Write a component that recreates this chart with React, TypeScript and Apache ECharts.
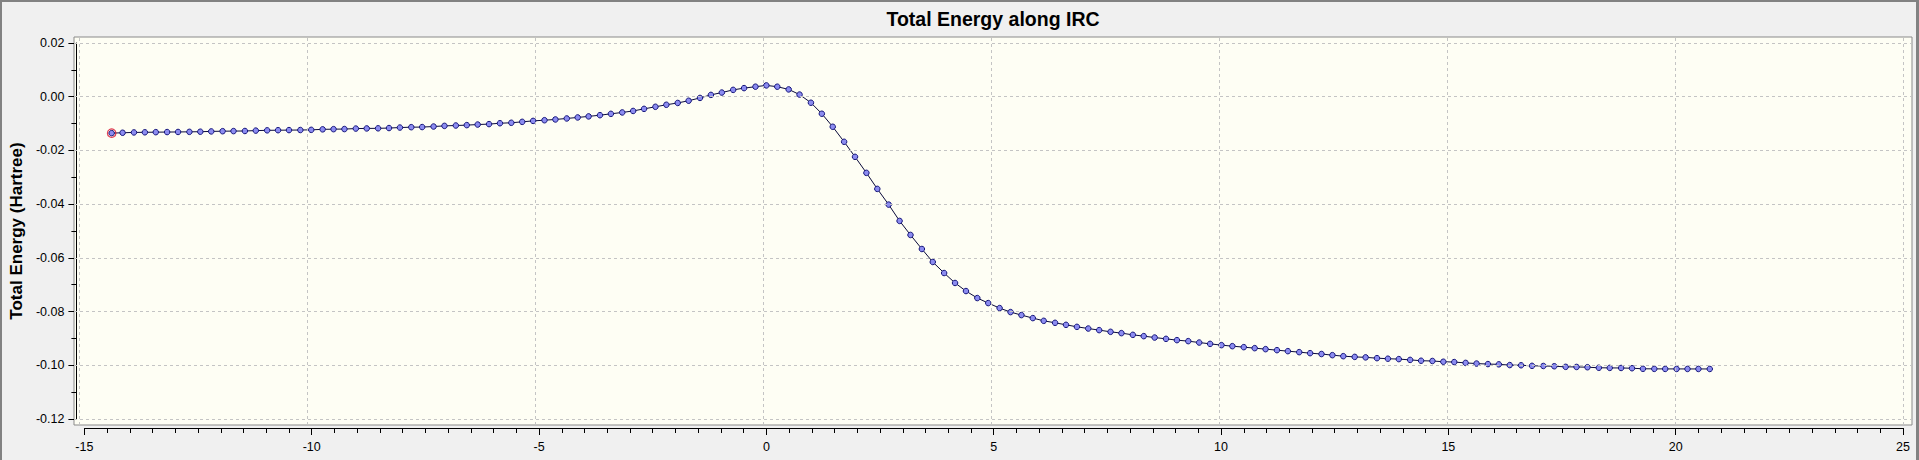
import React, { useEffect, useRef } from "react";
import * as echarts from "echarts";

const TITLE = "Total Energy along IRC";
const Y_NAME = "Total Energy (Hartree)";

// Reaction coordinate of each IRC point
const X_VALUES = [
  -14.40, -14.16, -13.91, -13.67, -13.43, -13.18, -12.94, -12.69, -12.45, -12.21,
  -11.96, -11.72, -11.47, -11.23, -10.98, -10.74, -10.50, -10.25, -10.01, -9.76,
  -9.52, -9.28, -9.03, -8.79, -8.54, -8.30, -8.06, -7.81, -7.57, -7.32,
  -7.08, -6.83, -6.59, -6.35, -6.10, -5.86, -5.61, -5.37, -5.13, -4.88,
  -4.64, -4.39, -4.15, -3.91, -3.66, -3.42, -3.17, -2.93, -2.69, -2.44,
  -2.20, -1.95, -1.71, -1.46, -1.22, -0.98, -0.73, -0.49, -0.24, 0.00,
  0.24, 0.49, 0.73, 0.98, 1.22, 1.46, 1.71, 1.95, 2.20, 2.44,
  2.69, 2.93, 3.17, 3.42, 3.66, 3.91, 4.15, 4.39, 4.64, 4.88,
  5.13, 5.37, 5.61, 5.86, 6.10, 6.35, 6.59, 6.83, 7.08, 7.32,
  7.57, 7.81, 8.06, 8.30, 8.54, 8.79, 9.03, 9.28, 9.52, 9.76,
  10.01, 10.25, 10.50, 10.74, 10.98, 11.23, 11.47, 11.72, 11.96, 12.21,
  12.45, 12.69, 12.94, 13.18, 13.43, 13.67, 13.91, 14.16, 14.40, 14.65,
  14.89, 15.13, 15.38, 15.62, 15.87, 16.11, 16.35, 16.60, 16.84, 17.09,
  17.33, 17.58, 17.82, 18.06, 18.31, 18.55, 18.80, 19.04, 19.28, 19.53,
  19.77, 20.02, 20.26, 20.50, 20.75,
];

// Total energy (Hartree) at each point
const ENERGY = [
  -0.01356, -0.01342, -0.01330, -0.01325, -0.01320, -0.01316, -0.01312, -0.01308, -0.01303, -0.01292,
  -0.01284, -0.01280, -0.01276, -0.01262, -0.01252, -0.01247, -0.01243, -0.01240, -0.01233, -0.01215,
  -0.01208, -0.01204, -0.01186, -0.01181, -0.01177, -0.01167, -0.01148, -0.01135, -0.01130, -0.01110,
  -0.01086, -0.01072, -0.01058, -0.01036, -0.01020, -0.00988, -0.00970, -0.00935, -0.00900, -0.00875,
  -0.00847, -0.00810, -0.00772, -0.00733, -0.00688, -0.00637, -0.00586, -0.00530, -0.00452, -0.00375,
  -0.00300, -0.00232, -0.00150, -0.00045, 0.00068, 0.00155, 0.00255, 0.00320, 0.00373, 0.00421,
  0.00373, 0.00272, 0.00080, -0.00224, -0.00634, -0.01119, -0.01678, -0.02238, -0.02835, -0.03432,
  -0.04017, -0.04625, -0.05147, -0.05670, -0.06154, -0.06565, -0.06935, -0.07236, -0.07497, -0.07684,
  -0.07870, -0.08019, -0.08131, -0.08243, -0.08344, -0.08418, -0.08493, -0.08568, -0.08631, -0.08691,
  -0.08754, -0.08803, -0.08866, -0.08915, -0.08967, -0.09015, -0.09064, -0.09101, -0.09153, -0.09202,
  -0.09250, -0.09288, -0.09325, -0.09362, -0.09399, -0.09437, -0.09474, -0.09511, -0.09549, -0.09580,
  -0.09623, -0.09661, -0.09687, -0.09705, -0.09735, -0.09755, -0.09770, -0.09799, -0.09830, -0.09840,
  -0.09868, -0.09880, -0.09911, -0.09936, -0.09955, -0.09965, -0.09992, -0.10000, -0.10020, -0.10026,
  -0.10036, -0.10058, -0.10062, -0.10072, -0.10092, -0.10097, -0.10100, -0.10110, -0.10130, -0.10133,
  -0.10135, -0.10135, -0.10136, -0.10136, -0.10137,
];

const X_TICKS = [-15, -10, -5, 0, 5, 10, 15, 20, 25];
const Y_TICKS = [0.02, 0.0, -0.02, -0.04, -0.06, -0.08, -0.1, -0.12];

const FONT = "'Liberation Sans', Arial, Helvetica, sans-serif";

export default function App() {
  const ref = useRef<HTMLDivElement>(null);

  useEffect(() => {
    if (!ref.current) return;
    document.body.style.margin = "0";
    const chart = echarts.init(ref.current, undefined, { renderer: "svg" });

    const points = ENERGY.map((e, i) => [X_VALUES[i], e]);

    // pixel scale of the data grid
    const gx = { left: 79, top: 43, width: 1824, height: 376 };
    const xMin = X_TICKS[0];
    const xMax = X_TICKS[X_TICKS.length - 1];
    const yMin = Y_TICKS[Y_TICKS.length - 1];
    const yMax = Y_TICKS[0];
    const pxPerX = gx.width / (xMax - xMin);
    const pxPerY = gx.height / (yMax - yMin);
    // plot frame (slightly larger than the axis extents)
    const box = { left: 74, top: 37, right: 1912, bottom: 425 };

    const option: any = {
      animation: false,
      backgroundColor: "#f0f0f0",
      textStyle: { fontFamily: FONT },
      graphic: [
        { type: "rect", shape: { x: 0, y: 0, width: 1919, height: 2 }, style: { fill: "#828282" }, silent: true },
        { type: "rect", shape: { x: 0, y: 0, width: 2, height: 460 }, style: { fill: "#828282" }, silent: true },
        { type: "rect", shape: { x: 1916, y: 0, width: 3, height: 460 }, style: { fill: "#828282" }, silent: true },
        {
          type: "text",
          x: (box.left + box.right) / 2,
          y: 19,
          style: {
            text: TITLE,
            fontSize: 19.5,
            fontWeight: "bold",
            fontFamily: FONT,
            fill: "#000",
            textAlign: "center",
            textVerticalAlign: "middle",
          },
        },
      ],
      grid: [
        { left: gx.left, top: gx.top, width: gx.width, height: gx.height, show: false },
        {
          left: box.left,
          top: box.top,
          width: box.right - box.left,
          height: box.bottom - box.top,
          show: true,
          backgroundColor: "#fefef4",
          borderColor: "#8a8a8a",
          borderWidth: 1,
        },
      ],
      xAxis: [
        {
          type: "value",
          gridIndex: 0,
          position: "bottom",
          min: xMin,
          max: xMax,
          interval: 5,
          offset: 9,
          axisLine: { show: true, onZero: false, lineStyle: { color: "#000", width: 1 } },
          axisTick: { show: true, length: 7, inside: false, lineStyle: { color: "#000" } },
          minorTick: { show: true, splitNumber: 10, length: 5, lineStyle: { color: "#000" } },
          splitLine: { show: false },
          axisLabel: { margin: 12, fontSize: 12.5, color: "#000", fontFamily: FONT },
        },
        {
          type: "value",
          gridIndex: 1,
          show: false,
          min: xMin - (gx.left - box.left) / pxPerX,
          max: xMax + (box.right - (gx.left + gx.width)) / pxPerX,
          splitLine: { show: false },
        },
      ],
      yAxis: [
        {
          type: "value",
          gridIndex: 0,
          position: "left",
          min: yMin,
          max: yMax,
          interval: 0.02,
          offset: 8,
          name: Y_NAME,
          nameLocation: "middle",
          nameRotate: 90,
          nameGap: 46,
          nameTextStyle: { fontSize: 17, fontWeight: "bold", color: "#000", fontFamily: FONT },
          axisLine: { show: true, onZero: false, lineStyle: { color: "#000", width: 1 } },
          axisTick: { show: true, length: 8, inside: false, lineStyle: { color: "#000" } },
          minorTick: { show: true, splitNumber: 2, length: 5, lineStyle: { color: "#000" } },
          splitLine: { show: false },
          axisLabel: {
            margin: 12,
            fontSize: 12.5,
            color: "#000",
            fontFamily: FONT,
            formatter: (v: number) => v.toFixed(2),
          },
        },
        {
          type: "value",
          gridIndex: 1,
          show: false,
          min: yMin - (box.bottom - (gx.top + gx.height)) / pxPerY,
          max: yMax + (gx.top - box.top) / pxPerY,
          splitLine: { show: false },
        },
      ],
      series: [
        {
          type: "line",
          xAxisIndex: 1,
          yAxisIndex: 1,
          data: [],
          silent: true,
          z: 1,
          markLine: {
            silent: true,
            symbol: ["none", "none"],
            label: { show: false },
            lineStyle: { color: "#c4c4c4", width: 1, type: [3, 3] },
            emphasis: { disabled: true },
            data: [
              ...X_TICKS.map((v) => ({ xAxis: v })),
              ...Y_TICKS.map((v) => ({ yAxis: v })),
            ],
          },
        },
        {
          type: "line",
          xAxisIndex: 0,
          yAxisIndex: 0,
          data: points,
          z: 3,
          symbol: "circle",
          symbolSize: 5.5,
          showAllSymbol: true,
          smooth: false,
          clip: false,
          lineStyle: { color: "#0a0a3a", width: 1 },
          itemStyle: { color: "#8c8cf0", borderColor: "#14147a", borderWidth: 1 },
          emphasis: { disabled: true },
        },
        {
          type: "scatter",
          xAxisIndex: 0,
          yAxisIndex: 0,
          data: [points[0]],
          z: 4,
          symbol: "circle",
          symbolSize: 8.5,
          itemStyle: { color: "rgba(0,0,0,0)", borderColor: "#d8102c", borderWidth: 1.2 },
          emphasis: { disabled: true },
        },
      ],
    };

    chart.setOption(option);
    return () => {
      chart.dispose();
    };
  }, []);

  return (
    <div
      ref={ref}
      style={{ position: "fixed", left: 0, top: 0, width: 1919, height: 460 }}
    />
  );
}
